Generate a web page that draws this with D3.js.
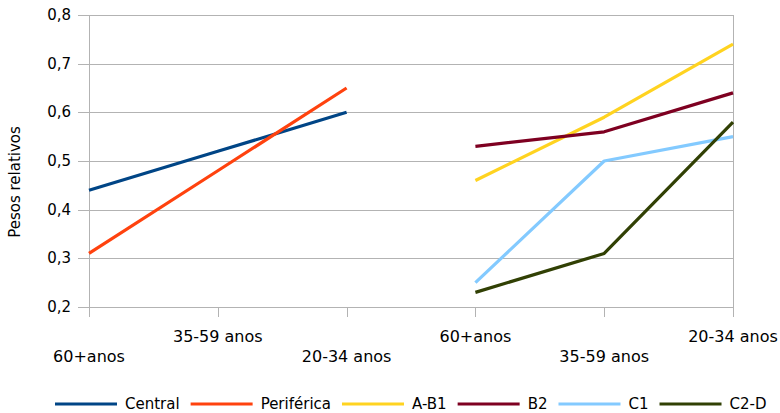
<!DOCTYPE html>
<html>
<head>
<meta charset="utf-8">
<script src="https://cdn.jsdelivr.net/npm/d3@7"></script>
<style>
  html, body { margin: 0; padding: 0; background: #fff; }
  svg { display: block; font-family: "DejaVu Sans", sans-serif; }
</style>
</head>
<body>
<svg id="chart" width="780" height="413"></svg>
<script>
// Category slots along the x axis (two groups of three age bands)
const categories = ["60+anos", "35-59 anos", "20-34 anos", "60+anos", "35-59 anos", "20-34 anos"];
const yTicks = [0.2, 0.3, 0.4, 0.5, 0.6, 0.7, 0.8];

// Series: slot index where each series starts, and its values
const seriesNames = ["Central", "Periférica", "A-B1", "B2", "C1", "C2-D"];
const seriesColors = ["#004586", "#ff420e", "#ffd320", "#7e0021", "#83caff", "#314004"];
const seriesStart = [0, 0, 3, 3, 3, 3];
const central    = [0.44, 0.52, 0.60];
const periferica = [0.31, 0.48, 0.65];
const ab1        = [0.46, 0.59, 0.74];
const b2         = [0.53, 0.56, 0.64];
const c1         = [0.25, 0.50, 0.55];
const c2d        = [0.23, 0.31, 0.58];
const seriesValues = [central, periferica, ab1, b2, c1, c2d];

const svg = d3.select("#chart");
const plotLeft = 89, plotRight = 733, plotTop = 15, plotBottom = 307;
const gridColor = "#b3b3b3";

const x = d3.scalePoint().domain(d3.range(categories.length)).range([plotLeft, plotRight]);
const y = d3.scaleLinear().domain([0.2, 0.8]).range([plotBottom, plotTop]);

// Horizontal gridlines with outer ticks
const gy = svg.append("g");
gy.selectAll("line").data(yTicks).join("line")
  .attr("x1", plotLeft - 11).attr("x2", plotRight)
  .attr("y1", d => Math.round(y(d)) + 0.5).attr("y2", d => Math.round(y(d)) + 0.5)
  .attr("stroke", gridColor).attr("stroke-width", 1);
gy.selectAll("text").data(yTicks).join("text")
  .attr("x", 71).attr("y", d => y(d))
  .attr("text-anchor", "end").attr("dominant-baseline", "central")
  .attr("font-size", 15).attr("fill", "#000")
  .text(d => d3.format(".1f")(d).replace(".", ","));

// Vertical frame lines and category ticks
svg.append("line").attr("x1", plotLeft + 0.5).attr("x2", plotLeft + 0.5).attr("y1", plotTop).attr("y2", plotBottom)
  .attr("stroke", gridColor);
svg.append("line").attr("x1", plotRight + 0.5).attr("x2", plotRight + 0.5).attr("y1", plotTop).attr("y2", plotBottom)
  .attr("stroke", gridColor);
const gx = svg.append("g");
gx.selectAll("line").data(d3.range(categories.length)).join("line")
  .attr("x1", d => Math.round(x(d)) + 0.5).attr("x2", d => Math.round(x(d)) + 0.5)
  .attr("y1", plotBottom).attr("y2", plotBottom + 10)
  .attr("stroke", gridColor);
gx.selectAll("text").data(categories).join("text")
  .attr("x", (d, i) => x(i))
  .attr("y", (d, i) => i % 2 === 0 ? 362 : 342)
  .attr("text-anchor", "middle")
  .attr("font-size", 16).attr("fill", "#000")
  .text(d => d);

// Axis title
svg.append("text")
  .attr("transform", "translate(15,182) rotate(-90)")
  .attr("text-anchor", "middle").attr("dominant-baseline", "central")
  .attr("font-size", 15).attr("fill", "#000")
  .text("Pesos relativos");

// Series lines
const line = d3.line().x(d => x(d.i)).y(d => y(d.v));
seriesValues.forEach((vals, s) => {
  const pts = vals.map((v, k) => ({ i: seriesStart[s] + k, v }));
  svg.append("path")
    .attr("d", line(pts))
    .attr("fill", "none")
    .attr("stroke", seriesColors[s])
    .attr("stroke-width", 3.2)
    .attr("stroke-linejoin", "round");
});

// Legend
const legend = svg.append("g");
let lx = 55;
const ly = 404;
seriesNames.forEach((name, s) => {
  const g = legend.append("g");
  g.append("line").attr("x1", lx).attr("x2", lx + 62).attr("y1", ly).attr("y2", ly)
    .attr("stroke", seriesColors[s]).attr("stroke-width", 3.2);
  const t = g.append("text").attr("x", lx + 70).attr("y", ly)
    .attr("dominant-baseline", "central")
    .attr("font-size", 15).attr("fill", "#000").text(name);
  lx += 70 + t.node().getComputedTextLength() + 11;
});
</script>
</body>
</html>
